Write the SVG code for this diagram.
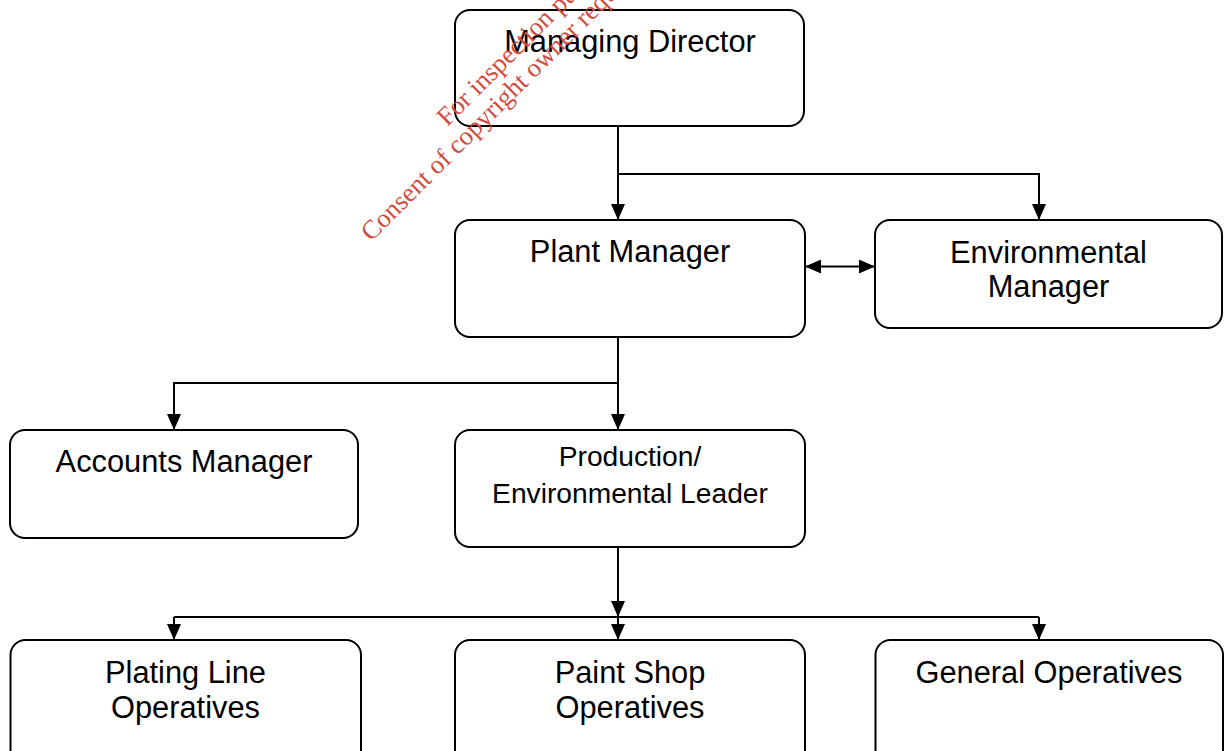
<svg xmlns="http://www.w3.org/2000/svg" width="1225" height="751" viewBox="0 0 1225 751">
  <style>
    .box { fill: #ffffff; stroke: #000000; stroke-width: 2; }
    .lbl { font-family: "Liberation Sans", Arial, sans-serif; font-size: 30.8px; fill: #000000; text-anchor: middle; }
    .sm { font-size: 28.2px; }
    .con { fill: none; stroke: #000000; stroke-width: 2; }
    .wm { font-family: "Liberation Serif", "Times New Roman", serif; font-size: 26.5px; fill: #d14b3e; text-anchor: middle; }
  </style>
  <defs>
    <marker id="arr" markerUnits="userSpaceOnUse" markerWidth="16" markerHeight="14" refX="16" refY="7" orient="auto-start-reverse" viewBox="0 0 16 14">
      <path d="M0,0 L16,7 L0,14 z" fill="#000000"/>
    </marker>
  </defs>
  <rect x="0" y="0" width="1225" height="751" fill="#ffffff"/>

  <g id="connectors">
    <path class="con" d="M618,126 V220" marker-end="url(#arr)"/>
    <path class="con" d="M618,174 H1039 V220" marker-end="url(#arr)"/>
    <path class="con" d="M805,266.5 H875" marker-start="url(#arr)" marker-end="url(#arr)"/>
    <path class="con" d="M618,337 V430" marker-end="url(#arr)"/>
    <path class="con" d="M618,383 H174 V430" marker-end="url(#arr)"/>
    <path class="con" d="M618,547 V617" marker-end="url(#arr)"/>
    <path class="con" d="M174,617 H1039"/>
    <path class="con" d="M174,617 V640" marker-end="url(#arr)"/>
    <path class="con" d="M618,617 V640" marker-end="url(#arr)"/>
    <path class="con" d="M1039,617 V640" marker-end="url(#arr)"/>
  </g>

  <g id="managing-director">
    <rect class="box" x="455" y="10" width="349" height="116" rx="15"/>
    <text class="lbl" x="630" y="52">Managing Director</text>
  </g>
  <g id="plant-manager">
    <rect class="box" x="455" y="220" width="350" height="117" rx="15"/>
    <text class="lbl" x="630" y="262">Plant Manager</text>
  </g>
  <g id="environmental-manager">
    <rect class="box" x="875" y="220" width="347" height="108" rx="15"/>
    <text class="lbl" x="1048.5" y="263">Environmental</text>
    <text class="lbl" x="1048.5" y="297">Manager</text>
  </g>
  <g id="accounts-manager">
    <rect class="box" x="10" y="430" width="348" height="108" rx="15"/>
    <text class="lbl" x="184" y="472">Accounts Manager</text>
  </g>
  <g id="production-leader">
    <rect class="box" x="455" y="430" width="350" height="117" rx="15"/>
    <text class="lbl sm" x="630" y="466">Production/</text>
    <text class="lbl sm" x="630" y="503">Environmental Leader</text>
  </g>
  <g id="plating-line">
    <rect class="box" x="10.5" y="640" width="350.5" height="125" rx="15"/>
    <text class="lbl" x="185.5" y="683">Plating Line</text>
    <text class="lbl" x="185.5" y="718">Operatives</text>
  </g>
  <g id="paint-shop">
    <rect class="box" x="455" y="640" width="350" height="125" rx="15"/>
    <text class="lbl" x="630" y="683">Paint Shop</text>
    <text class="lbl" x="630" y="718">Operatives</text>
  </g>
  <g id="general-operatives">
    <rect class="box" x="875.5" y="640" width="347.5" height="125" rx="15"/>
    <text class="lbl" x="1049" y="683">General Operatives</text>
  </g>

  <g id="watermark" transform="translate(557.5,17) rotate(-45)">
    <text class="wm" x="0" y="0">For inspection purposes only.</text>
    <text class="wm" x="0.8" y="27.5">Consent of copyright owner required for any other use.</text>
  </g>
</svg>
